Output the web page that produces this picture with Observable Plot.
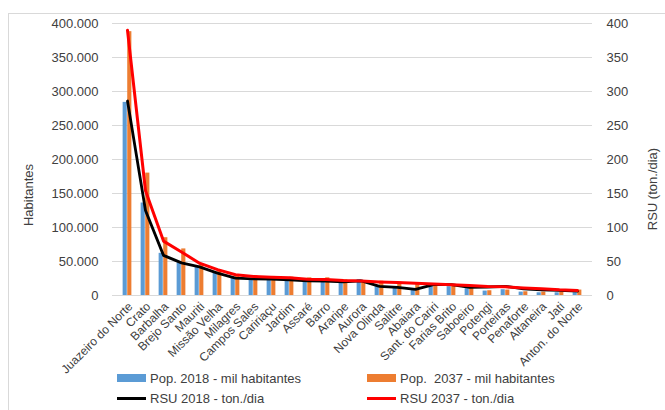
<!DOCTYPE html>
<html>
<head>
<meta charset="utf-8">
<script src="https://cdn.jsdelivr.net/npm/d3@7"></script>
<script src="https://cdn.jsdelivr.net/npm/@observablehq/plot@0.6"></script>
<style>
  html, body { margin: 0; padding: 0; background: #fff; }
  #wrap { position: relative; width: 665px; height: 410px; overflow: hidden; font-family: "Liberation Sans", Arial, sans-serif; color: #404040; }
  #border { position: absolute; left: 8px; top: 13px; width: 700px; height: 450px; border: 1px solid #d9d9d9; box-sizing: border-box; }
  #chart { position: absolute; left: 0; top: 0; }
  .ytitle { position: absolute; font-size: 13px; white-space: nowrap; transform: translate(-50%, -50%) rotate(-90deg); }
  .leg { position: absolute; font-size: 13px; white-space: pre; display: flex; align-items: center; }
  .sw { display: inline-block; width: 29px; margin-right: 4px; }
</style>
</head>
<body>
<div id="wrap">
  <div id="border"></div>
  <div id="chart"></div>
  <div class="ytitle" style="left:28px; top:195px;">Habitantes</div>
  <div class="ytitle" style="left:652px; top:189px;">RSU (ton./dia)</div>
  <div id="legend"></div>
</div>
<script>
const categories = ["Juazeiro do Norte","Crato","Barbalha","Brejo Santo","Mauriti","Missão Velha","Milagres","Campos Sales","Caririaçu","Jardim","Assaré","Barro","Araripe","Aurora","Nova Olinda","Salitre","Abaiara","Sant. do Cariri","Farias Brito","Saboeiro","Potengi","Porteiras","Penaforte","Altaneira","Jati","Anton. do Norte"];
// population in inhabitants
const pop2018 = [284000,136000,62000,48000,42500,34000,26000,23500,24000,26000,21500,21000,19000,23500,13500,11500,8500,16000,13000,10000,6500,8500,5000,4000,4000,4000];
const pop2037 = [388000,180000,85000,68500,47000,37500,30000,29000,28000,27000,26000,26000,23000,21000,21000,19500,16500,16000,13500,11500,7000,8000,5500,5000,5000,8000];
// RSU in ton/day
const rsu2018 = [286,125,59,48,42,33,25.5,24.5,24,23,21.5,21,20,21.5,13.5,12,9,16,16,12,12.5,13.5,9.8,8.3,7.4,6.4];
const rsu2037 = [390,154,80,64,47.5,38,30.5,28,27,26,24,23.5,22,21.5,20,19,18,17,15.7,14.7,13.4,12.7,11,9.8,8.3,7.4];
const yTicks = [0,50,100,150,200,250,300,350,400];

const series = [
  {name: "Pop. 2018 - mil habitantes", kind: "bar", color: "#5b9bd5"},
  {name: "Pop.  2037 - mil habitantes", kind: "bar", color: "#ed7d31"},
  {name: "RSU 2018 - ton./dia", kind: "line", color: "#000000"},
  {name: "RSU 2037 - ton./dia", kind: "line", color: "#ff0000"}
];

const rows = categories.map((c, i) => ({c, p18: pop2018[i] / 1000, p37: pop2037[i] / 1000, r18: rsu2018[i], r37: rsu2037[i]}));

const W = 665, H = 410;
const mL = 112, mR = 73, mT = 23, mB = 115;
const bw = (W - mL - mR) / categories.length;
const half = bw / 2, barW = 4.6;

const fmtLeft = d => d === 0 ? "0" : d3.format(",")(d * 1000).replace(/,/g, ".");

const chart = Plot.plot({
  width: W, height: H,
  marginLeft: mL, marginRight: mR, marginTop: mT, marginBottom: mB,
  style: {fontFamily: "Liberation Sans, Arial, sans-serif", fontSize: "13px", color: "#404040", background: "transparent"},
  x: {type: "band", domain: categories, padding: 0, axis: null},
  y: {domain: [0, 400]},
  marks: [
    Plot.gridY(yTicks, {stroke: "#d9d9d9", strokeOpacity: 1, strokeWidth: 1}),
    Plot.barY(rows, {x: "c", y: "p18", fill: series[0].color, insetLeft: half - barW, insetRight: half}),
    Plot.barY(rows, {x: "c", y: "p37", fill: series[1].color, insetLeft: half, insetRight: half - barW}),
    Plot.lineY(rows, {x: "c", y: "r18", stroke: series[2].color, strokeWidth: 2.8}),
    Plot.lineY(rows, {x: "c", y: "r37", stroke: series[3].color, strokeWidth: 3}),
    Plot.axisY(yTicks, {anchor: "left", tickSize: 0, tickPadding: 14, tickFormat: fmtLeft, label: null, fontSize: 13}),
    Plot.axisY(yTicks, {anchor: "right", tickSize: 0, tickPadding: 14, tickFormat: d => String(d), label: null, fontSize: 13}),
    Plot.text(categories, {x: d => d, y: () => 0, text: d => d, rotate: -45, textAnchor: "end", lineAnchor: "middle", dx: 3, dy: 9, fontSize: 12, fill: "#404040"})
  ]
});
document.getElementById("chart").appendChild(chart);

const legend = document.getElementById("legend");
const pos = [[117, 378], [367, 378], [117, 398], [367, 398]];
series.forEach((s, i) => {
  const d = document.createElement("div");
  d.className = "leg";
  d.style.left = pos[i][0] + "px";
  d.style.top = (pos[i][1] - 9) + "px";
  d.style.height = "18px";
  const sw = document.createElement("span");
  sw.className = "sw";
  sw.style.background = s.color;
  sw.style.height = s.kind === "bar" ? "8px" : "3px";
  d.appendChild(sw);
  d.appendChild(document.createTextNode(s.name));
  legend.appendChild(d);
});
</script>
</body>
</html>
